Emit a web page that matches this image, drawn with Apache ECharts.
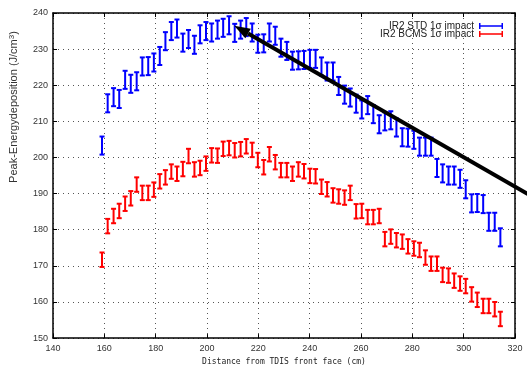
<!DOCTYPE html>
<html>
<head>
<meta charset="utf-8">
<script src="https://cdn.jsdelivr.net/npm/echarts@6/dist/echarts.min.js"></script>
<style>
  html, body { margin: 0; padding: 0; background: #fff; }
  #chart { width: 527px; height: 371px; }
</style>
</head>
<body>
<div id="chart"></div>
<script>
// distance from TDIS front face (cm)
var distData = [159.1, 161.3, 163.6, 165.8, 168.1, 170.3, 172.6, 174.8, 177.1, 179.3,
    181.6, 183.8, 186.1, 188.3, 190.6, 192.8, 195.1, 197.3, 199.6, 201.8,
    204.1, 206.3, 208.6, 210.8, 213.1, 215.3, 217.6, 219.8, 222.1, 224.3,
    226.6, 228.8, 231.1, 233.3, 235.6, 237.8, 240.1, 242.3, 244.6, 246.8,
    249.1, 251.3, 253.6, 255.8, 258.1, 260.3, 262.6, 264.8, 267.1, 269.3,
    271.6, 273.8, 276.1, 278.3, 280.6, 282.8, 285.1, 287.3, 289.6, 291.8,
    294.1, 296.3, 298.6, 300.8, 303.1, 305.3, 307.6, 309.8, 312.1, 314.3];

var stdData = [203.3, 215.0, 216.7, 216.2, 221.5, 220.4, 221.1, 225.2, 225.3, 226.3,
    228.1, 232.2, 235.0, 235.7, 231.8, 232.8, 231.2, 234.1, 235.0, 234.6,
    235.4, 235.9, 236.6, 234.5, 235.4, 236.1, 234.6, 231.5, 231.6, 234.6,
    233.7, 230.4, 229.5, 226.8, 226.9, 227.0, 227.3, 227.3, 225.2, 223.8,
    223.8, 219.8, 217.4, 216.6, 214.9, 213.3, 214.5, 212.0, 209.2, 210.0,
    210.3, 208.3, 205.6, 205.5, 204.9, 203.0, 203.0, 203.0, 197.1, 195.6,
    195.0, 195.0, 194.1, 191.2, 187.3, 187.4, 187.1, 182.2, 182.2, 177.9];

var bcmsData = [171.7, 181.0, 183.8, 185.2, 187.2, 188.7, 192.5, 190.2, 190.2, 191.1,
    193.4, 194.5, 196.1, 195.5, 196.8, 200.4, 196.7, 197.1, 198.3, 200.6,
    200.5, 202.4, 202.6, 202.0, 202.3, 203.1, 202.1, 199.3, 197.3, 200.9,
    198.7, 196.5, 196.5, 195.5, 196.7, 196.2, 194.9, 194.8, 191.9, 191.2,
    189.5, 189.2, 188.9, 190.2, 185.1, 185.2, 183.5, 183.5, 183.8, 177.4,
    178.1, 177.1, 176.7, 175.4, 174.8, 174.4, 172.3, 170.6, 170.6, 167.5,
    167.3, 165.9, 165.1, 164.4, 162.1, 160.6, 158.9, 158.9, 158.0, 155.3];

// 1 sigma half-widths
var stdErr = 2.5;
var bcmsErr = 2.0;

// arrow: start (outside the frame) -> tip
var arrowData = [[325, 189.9, 210.6, 236.5]];

var seriesNames = ['IR2 STD 1\u03c3 impact', 'IR2 BCMS 1\u03c3 impact'];

function toErrData(vals, err) {
    return distData.map(function (d, i) { return [d, vals[i], err]; });
}

function errorBarItem(params, api) {
    var x = api.value(0), y = api.value(1), e = api.value(2);
    var hi = api.coord([x, y + e]);
    var lo = api.coord([x, y - e]);
    var cap = 2.5;
    var style = { stroke: api.visual('color'), lineWidth: 2 };
    return {
        type: 'group',
        children: [
            { type: 'line', shape: { x1: hi[0], y1: hi[1], x2: lo[0], y2: lo[1] }, style: style },
            { type: 'line', shape: { x1: hi[0] - cap, y1: hi[1], x2: hi[0] + cap, y2: hi[1] }, style: style },
            { type: 'line', shape: { x1: lo[0] - cap, y1: lo[1], x2: lo[0] + cap, y2: lo[1] }, style: style }
        ]
    };
}

function arrowItem(params, api) {
    var p0 = api.coord([api.value(0), api.value(1)]);
    var p1 = api.coord([api.value(2), api.value(3)]);
    var ang = Math.atan2(p1[1] - p0[1], p1[0] - p0[0]);
    var len = 16, half = 5.5;
    var bx = p1[0] - len * Math.cos(ang), by = p1[1] - len * Math.sin(ang);
    var nx = -Math.sin(ang) * half, ny = Math.cos(ang) * half;
    return {
        type: 'group',
        children: [
            { type: 'line', shape: { x1: p0[0], y1: p0[1], x2: bx, y2: by },
              style: { stroke: '#000', lineWidth: 4 } },
            { type: 'polygon', shape: { points: [[p1[0], p1[1]], [bx + nx, by + ny], [bx - nx, by - ny]] },
              style: { fill: '#000' } }
        ]
    };
}

var dom = document.getElementById('chart');
var chart = echarts.init(dom, null, { renderer: 'canvas' });

var capIcon = 'path://M0,0H1.5V2.2H22.5V0H24V6H22.5V3.8H1.5V6H0Z';
var tickFont = { fontFamily: 'Liberation Sans', fontSize: 9, color: '#333' };
var gridLine = { show: true, lineStyle: { color: '#555', width: 1, type: [1, 4] } };

var option = {
    animation: false,
    backgroundColor: '#fff',
    grid: { left: 53, right: 12, top: 13, bottom: 31 },
    legend: {
        orient: 'vertical',
        right: 19,
        top: 16,
        align: 'right',
        itemWidth: 24,
        itemHeight: 6,
        itemGap: -2,
        textStyle: { fontFamily: 'Liberation Sans', fontSize: 10, color: '#222', lineHeight: 10 },
        data: [
            { name: seriesNames[0], icon: capIcon },
            { name: seriesNames[1], icon: capIcon }
        ]
    },
    graphic: [{
        type: 'text',
        x: 14,
        y: 107,
        rotation: Math.PI / 2,
        style: {
            x: 0, y: 0,
            text: 'Peak-Energydeposition (J/cm{s|3})',
            align: 'center',
            verticalAlign: 'middle',
            fontFamily: 'Liberation Sans',
            fontSize: 11,
            fill: '#333',
            rich: { s: { fontFamily: 'Liberation Sans', fontSize: 8, fill: '#333', verticalAlign: 'top', padding: [0, 0, 5, 0] } }
        }
    }],
    xAxis: [{
        type: 'value',
        min: 140,
        max: 320,
        interval: 20,
        name: 'Distance from TDIS front face (cm)',
        nameLocation: 'middle',
        nameGap: 14,
        nameTextStyle: { fontFamily: 'DejaVu Sans Mono', fontSize: 8, color: '#222' },
        axisLine: { lineStyle: { color: '#000', width: 1.5 } },
        axisTick: { inside: true, length: 4, lineStyle: { color: '#000' } },
        axisLabel: Object.assign({ margin: 6 }, tickFont),
        splitLine: gridLine
    }, {
        type: 'value',
        position: 'top',
        min: 140,
        max: 320,
        interval: 20,
        axisLine: { lineStyle: { color: '#000', width: 1.5 } },
        axisTick: { inside: true, length: 4, lineStyle: { color: '#000' } },
        axisLabel: { show: false },
        splitLine: { show: false }
    }],
    yAxis: [{
        type: 'value',
        min: 150,
        max: 240,
        interval: 10,
        axisLine: { show: true, lineStyle: { color: '#000', width: 1.5 } },
        axisTick: { show: true, inside: true, length: 4, lineStyle: { color: '#000' } },
        axisLabel: Object.assign({ margin: 5 }, tickFont),
        splitLine: gridLine
    }, {
        type: 'value',
        position: 'right',
        min: 150,
        max: 240,
        interval: 10,
        axisLine: { show: true, lineStyle: { color: '#000', width: 1.5 } },
        axisTick: { show: true, inside: true, length: 4, lineStyle: { color: '#000' } },
        axisLabel: { show: false },
        splitLine: { show: false }
    }],
    series: [
        {
            name: seriesNames[0],
            type: 'custom',
            renderItem: errorBarItem,
            itemStyle: { color: '#0000ff' },
            encode: { x: 0, y: 1 },
            data: toErrData(stdData, stdErr)
        },
        {
            name: seriesNames[1],
            type: 'custom',
            renderItem: errorBarItem,
            itemStyle: { color: '#ff0000' },
            encode: { x: 0, y: 1 },
            data: toErrData(bcmsData, bcmsErr)
        },
        {
            name: 'arrow',
            type: 'custom',
            renderItem: arrowItem,
            clip: false,
            silent: true,
            encode: { x: [0, 2], y: [1, 3] },
            data: arrowData,
            z: 5
        }
    ]
};

chart.setOption(option);
</script>
</body>
</html>
